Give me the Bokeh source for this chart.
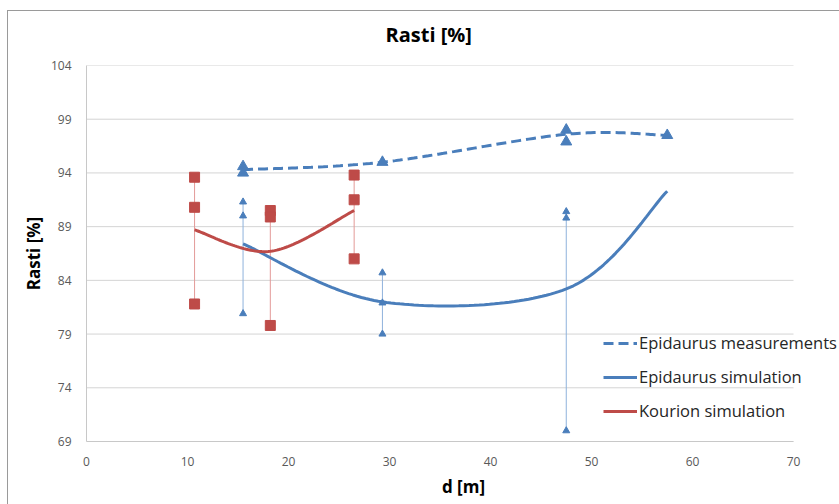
import numpy as np
from bokeh.plotting import figure
from bokeh.models import FixedTicker, Legend, LegendItem
from bokeh.embed import file_html
from bokeh.resources import INLINE

# ---------------- data ----------------
epi_d = [15.5, 29.3, 47.5, 57.5]
epi_meas_line = [94.3, 95.0, 97.6, 97.5]
epi_sim = [87.4, 82.0, 83.2, 92.3]

epi_meas_x = [15.5, 15.5, 29.3, 47.5, 47.5, 57.5]
epi_meas_y = [94.6, 94.0, 95.0, 98.0, 96.9, 97.5]

epi_range_x = [15.5, 15.5, 15.5, 29.3, 29.3, 29.3, 47.5, 47.5, 47.5]
epi_range_y = [91.3, 90.0, 80.9, 84.7, 81.9, 79.0, 90.4, 89.8, 70.0]

kou_d = [10.7, 18.2, 26.5]
kou_sim = [88.7, 86.7, 90.5]
kou_pts_x = [10.7, 10.7, 10.7, 18.2, 18.2, 18.2, 26.5, 26.5, 26.5]
kou_pts_y = [93.6, 90.8, 81.8, 90.5, 89.9, 79.8, 93.8, 91.5, 86.0]

x_ticks = [0, 10, 20, 30, 40, 50, 60, 70]
y_ticks = [69, 74, 79, 84, 89, 94, 99, 104]

BLUE = "#4a7ebb"
RED = "#be4b48"
FONT = "Open Sans"

AXIS_W = 707     # pixel width of the 0..70 axis
FRAME_W = 754    # frame extends to the right edge so the legend can overflow the axis


def smooth(xs, ys, n=40):
    """Spreadsheet-style smoothed line (cubic Bezier through the points)."""
    P = np.column_stack([xs, ys]).astype(float)
    m = len(P)
    out = [P[0]]
    t = np.linspace(0, 1, n)[1:, None]
    for i in range(m - 1):
        p0 = P[i - 1] if i > 0 else P[i]
        p1, p2 = P[i], P[i + 1]
        p3 = P[i + 2] if i + 2 < m else P[i + 1]
        c1 = p1 + (p2 - p0) / 6
        c2 = p2 - (p3 - p1) / 6
        seg = (1 - t) ** 3 * p1 + 3 * (1 - t) ** 2 * t * c1 + 3 * (1 - t) * t ** 2 * c2 + t ** 3 * p2
        out.extend(seg)
    a = np.array(out)
    return a[:, 0], a[:, 1]


def ranges(xs, ys):
    groups = {}
    for x, y in zip(xs, ys):
        groups.setdefault(x, []).append(y)
    gx = list(groups.keys())
    return gx, [min(v) for v in groups.values()], [max(v) for v in groups.values()]


x_lo, x_hi = x_ticks[0], x_ticks[-1]
p = figure(frame_width=FRAME_W, frame_height=376,
           min_border_left=79, min_border_right=0, min_border_top=0, min_border_bottom=63,
           x_range=(x_lo, x_lo + (x_hi - x_lo) * FRAME_W / AXIS_W),
           y_range=(y_ticks[0], y_ticks[-1]),
           output_backend="svg", toolbar_location=None,
           background_fill_color="white", border_fill_color="white")
p.styles = {"margin-left": "7px", "margin-top": "1px"}
# outer chart-area border (top and left edges)
p.stylesheets = [":host::before { content: ''; position: absolute; top: 9px; left: 0; right: 0; "
                 "bottom: 0; border-top: 1px solid #9a9a9a; border-left: 1px solid #9a9a9a; "
                 "z-index: 10; pointer-events: none; }"]
p.outline_line_color = None

p.title.text = "Rasti [%]"
p.title.align = "left"
p.title.offset = 299
p.title.text_font = FONT
p.title.text_font_size = "20px"
p.title.text_font_style = "bold"
p.title.text_color = "black"
p.title.standoff = 35

p.xaxis.ticker = FixedTicker(ticks=x_ticks)
p.yaxis.ticker = FixedTicker(ticks=y_ticks)
p.xaxis.bounds = (x_lo, x_hi)
for ax in (p.xaxis[0], p.yaxis[0]):
    ax.axis_line_color = "#c8c8c8"
    ax.major_tick_line_color = None
    ax.minor_tick_line_color = None
    ax.major_label_text_font = FONT
    ax.major_label_text_font_size = "12px"
    ax.major_label_text_color = "#595959"
    ax.axis_label_text_font = FONT
    ax.axis_label_text_font_size = "17px"
    ax.axis_label_text_font_style = "bold"
    ax.axis_label_text_color = "black"
p.xaxis.axis_label = "d [m]"
p.yaxis.axis_label = "Rasti [%]"
p.xaxis.major_label_standoff = 9
p.yaxis.major_label_standoff = 9
p.xaxis.axis_label_standoff = 6
p.yaxis.axis_label_standoff = 3

# horizontal grid lines only across the 0..70 span
p.xgrid.grid_line_color = None
p.ygrid.grid_line_color = None
p.segment([x_lo] * len(y_ticks), y_ticks, [x_hi] * len(y_ticks), y_ticks,
          line_color="#d4d4d4", line_width=1)

# range bars
gx, gmin, gmax = ranges(kou_pts_x, kou_pts_y)
p.segment(gx, gmin, gx, gmax, line_color="#e39a98", line_width=1)
gx, gmin, gmax = ranges(epi_range_x, epi_range_y)
p.segment(gx, gmin, gx, gmax, line_color="#8fb2dc", line_width=1)

# curves
sx, sy = smooth(epi_d, epi_meas_line)
r_meas = p.line(sx, sy, line_color=BLUE, line_width=3, line_dash="10 5")
sx, sy = smooth(epi_d, epi_sim)
r_sim = p.line(sx, sy, line_color=BLUE, line_width=3)
sx, sy = smooth(kou_d, kou_sim)
r_kou = p.line(sx, sy, line_color=RED, line_width=3)

# markers
p.scatter(kou_pts_x, kou_pts_y, marker="square", size=10, fill_color=RED, line_color=RED)
p.scatter(epi_range_x, epi_range_y, marker="triangle", size=7, fill_color=BLUE, line_color=BLUE)
p.scatter(epi_meas_x, epi_meas_y, marker="triangle", size=11, fill_color=BLUE, line_color=BLUE)

legend = Legend(items=[LegendItem(label="Epidaurus measurements", renderers=[r_meas]),
                       LegendItem(label="Epidaurus simulation", renderers=[r_sim]),
                       LegendItem(label="Kourion simulation", renderers=[r_kou])],
                location=(517, 19))
legend.background_fill_alpha = 0
legend.border_line_alpha = 0
legend.padding = 0
legend.margin = 0
legend.spacing = 11
legend.glyph_width = 34
legend.glyph_height = 20
legend.label_height = 20
legend.label_standoff = 2
legend.label_text_font = FONT
legend.label_text_font_size = "16.5px"
legend.label_text_color = "#262626"
p.add_layout(legend)

open("out.html", "w").write(file_html(p, INLINE))
